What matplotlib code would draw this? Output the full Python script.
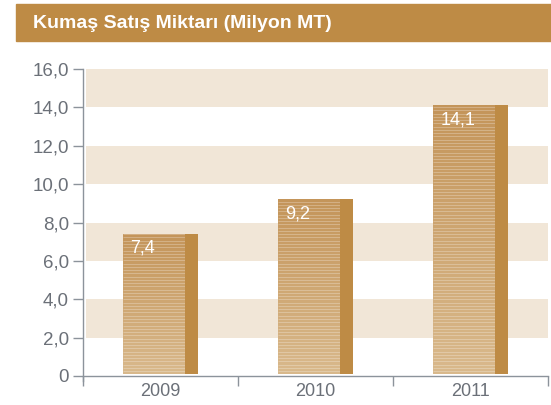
import matplotlib.pyplot as plt
import numpy as np
from matplotlib.patches import Rectangle
from matplotlib.colors import LinearSegmentedColormap

# datos
years = ["2009", "2010", "2011"]
values = [7.4, 9.2, 14.1]
labels = ["7,4", "9,2", "14,1"]
yticks = [0, 2, 4, 6, 8, 10, 12, 14, 16]
ytick_labels = ["0", "2,0", "4,0", "6,0", "8,0", "10,0", "12,0", "14,0", "16,0"]

gold = "#be8b45"
band = "#f1e6d7"
gray = "#6b7078"

plt.rcParams["font.family"] = ["Liberation Sans", "DejaVu Sans"]

fig = plt.figure(figsize=(5.51, 4.05), dpi=100)

# barra del titulo
fig.patches.append(Rectangle((16 / 551, 1 - 41 / 405), 1, 37 / 405,
                             transform=fig.transFigure, color=gold, zorder=0))
fig.text(33 / 551, 1 - 23 / 405, "Kumaş Satış Miktarı (Milyon MT)", color="white",
         fontsize=14, fontweight="bold", va="center", ha="left")

ax = fig.add_axes([83 / 551, 29 / 405, 465 / 551, 307 / 405])
ax.set_xlim(-0.5, 2.5)
ax.set_ylim(0, 16)

# franjas de fondo
for lo in [2, 6, 10, 14]:
    ax.axhspan(lo, lo + 2, xmin=0.007, xmax=1, color=band, lw=0, zorder=0)

cmap = LinearSegmentedColormap.from_list("g", ["#d9b98c", "#c4955a"])
front_w = 0.40
side_w = 0.09
for i, v in enumerate(values):
    x0 = i - 0.245
    # cara frontal con degradado
    rect = Rectangle((x0, 0.1), front_w, v - 0.1, facecolor="none", edgecolor="none")
    ax.add_patch(rect)
    grad = np.linspace(0, 1, 200).reshape(-1, 1)
    im = ax.imshow(grad, cmap=cmap, aspect="auto", origin="lower",
                   extent=(x0, x0 + front_w, 0.1, v), zorder=2)
    im.set_clip_path(rect)
    # rayas
    ys = np.arange(0.25, v, 0.17)
    ln = ax.hlines(ys, x0, x0 + front_w, colors="white", alpha=0.3, lw=0.6, zorder=3)
    ln.set_clip_path(rect)
    # lateral
    ax.add_patch(Rectangle((x0 + front_w, 0.1), side_w, v - 0.1, facecolor=gold,
                           edgecolor="none", zorder=3))
    ax.text(x0 + 0.05, v - 0.3, labels[i], color="white", fontsize=13,
            ha="left", va="top", zorder=4)

ax.set_yticks(yticks)
ax.set_yticklabels(ytick_labels)
ax.set_xticks([0, 1, 2])
ax.set_xticklabels(years)
ax.set_xticks([-0.5, 0.5, 1.5, 2.5], minor=True)
ax.tick_params(axis="x", which="major", length=0, pad=5, labelsize=13, colors=gray)
ax.tick_params(axis="x", which="minor", length=7, width=1, color="#8c939b", direction="out")
ax.tick_params(axis="y", length=7, width=1, color="#8c939b", labelsize=13.5,
               labelcolor=gray, pad=3)

for s in ["top", "right"]:
    ax.spines[s].set_visible(False)
for s in ["left", "bottom"]:
    ax.spines[s].set_color("#8c939b")
    ax.spines[s].set_linewidth(1)
ax.spines["left"].set_bounds(-0.25, 16)
ax.patch.set_alpha(0)

fig.savefig("out.png", dpi=100)
